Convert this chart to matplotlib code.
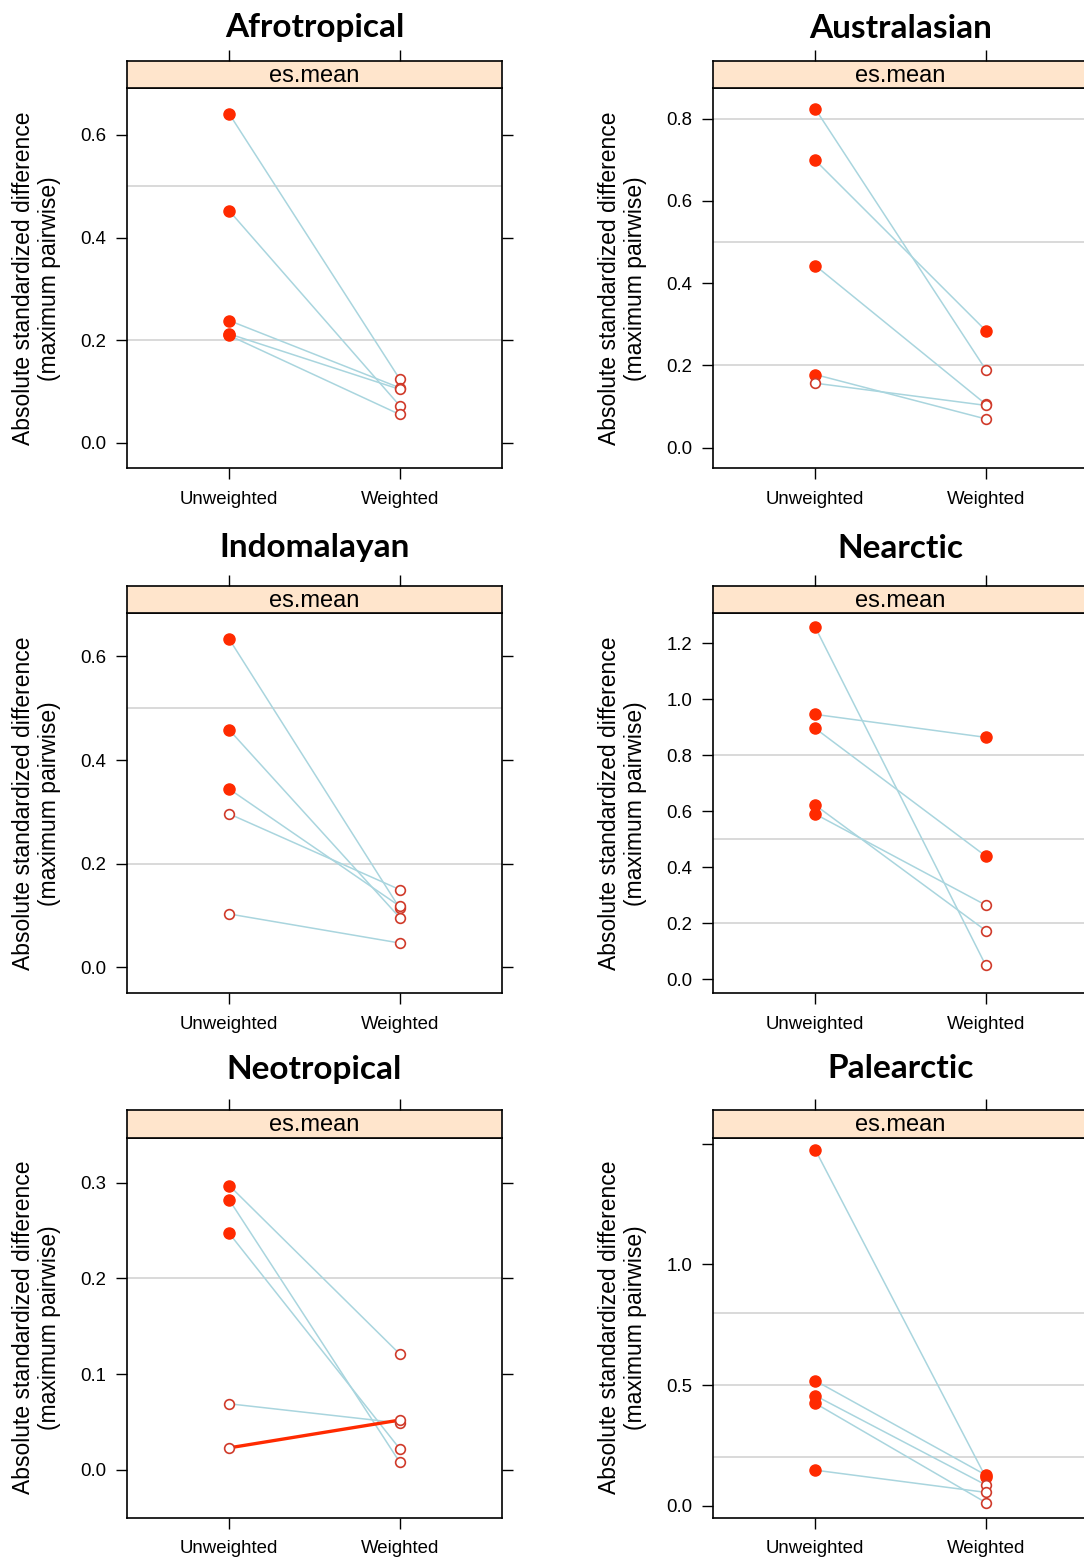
import matplotlib
matplotlib.use("Agg")
import matplotlib.pyplot as plt

plt.rcParams['font.family'] = ['Liberation Sans', 'DejaVu Sans']

regions = ["Afrotropical", "Australasian", "Indomalayan",
           "Nearctic", "Neotropical", "Palearctic"]
groups = ["Unweighted", "Weighted"]

# one list per region: unweighted value, weighted value of each covariate
unweighted = {
    "Afrotropical": [0.641, 0.452, 0.238, 0.212, 0.209],
    "Australasian": [0.824, 0.699, 0.443, 0.178, 0.157],
    "Indomalayan":  [0.633, 0.458, 0.344, 0.296, 0.103],
    "Nearctic":     [1.257, 0.946, 0.896, 0.622, 0.590],
    "Neotropical":  [0.297, 0.282, 0.247, 0.069, 0.023],
    "Palearctic":   [1.475, 0.518, 0.456, 0.424, 0.147],
}
weighted = {
    "Afrotropical": [0.124, 0.072, 0.107, 0.104, 0.055],
    "Australasian": [0.190, 0.285, 0.106, 0.070, 0.103],
    "Indomalayan":  [0.114, 0.096, 0.118, 0.150, 0.047],
    "Nearctic":     [0.050, 0.864, 0.440, 0.174, 0.265],
    "Neotropical":  [0.121, 0.008, 0.022, 0.049, 0.052],
    "Palearctic":   [0.118, 0.127, 0.086, 0.013, 0.055],
}
# filled marker = significant difference
unw_filled = {
    "Afrotropical": [1, 1, 1, 1, 1],
    "Australasian": [1, 1, 1, 1, 0],
    "Indomalayan":  [1, 1, 1, 0, 0],
    "Nearctic":     [1, 1, 1, 1, 1],
    "Neotropical":  [1, 1, 1, 0, 0],
    "Palearctic":   [1, 1, 1, 1, 1],
}
wtd_filled = {
    "Afrotropical": [0, 0, 0, 0, 0],
    "Australasian": [0, 1, 0, 0, 0],
    "Indomalayan":  [0, 0, 0, 0, 0],
    "Nearctic":     [0, 1, 1, 0, 0],
    "Neotropical":  [0, 0, 0, 0, 0],
    "Palearctic":   [1, 1, 0, 0, 0],
}
# lines where balance got worse after weighting
increased = {
    "Neotropical": [0, 0, 0, 0, 1],
}
yticks = {
    "Afrotropical": [0.0, 0.2, 0.4, 0.6],
    "Australasian": [0.0, 0.2, 0.4, 0.6, 0.8],
    "Indomalayan":  [0.0, 0.2, 0.4, 0.6],
    "Nearctic":     [0.0, 0.2, 0.4, 0.6, 0.8, 1.0, 1.2],
    "Neotropical":  [0.0, 0.1, 0.2, 0.3],
    "Palearctic":   [0.0, 0.5, 1.0, 1.5],
}
ytick_labels = {
    "Palearctic": ["0.0", "0.5", "1.0", ""],
}
ref_lines = [0.2, 0.5, 0.8]

W, H = 1084, 1558
fig = plt.figure(figsize=(W / 100, H / 100), dpi=100)

col_x = [127, 713]
panel_w = 375
row_top = [88.3, 613.3, 1137.7]
title_y = [28, 548, 1069]
panel_h = 380
strip_h = 27.6

red = "#FF2A00"
open_red = "#D03A2A"
blue = "#A9D5DE"
grid = "#CFCFCF"

tick_kw = dict(direction="out", length=8, width=1, labelsize=13.4, colors="black")

for i, reg in enumerate(regions):
    r, c = divmod(i, 2)
    x0 = col_x[c]
    top = row_top[r]
    ax = fig.add_axes([x0 / W, 1 - (top + panel_h) / H, panel_w / W, panel_h / H])
    st = fig.add_axes([x0 / W, 1 - top / H, panel_w / W, strip_h / H])

    u = unweighted[reg]
    w = weighted[reg]
    for y in ref_lines:
        ax.axhline(y, color=grid, lw=1.1, zorder=1)
    inc = increased.get(reg, [0] * len(u))
    for k in range(len(u)):
        if inc[k]:
            ax.plot([1, 2], [u[k], w[k]], color=red, lw=2.4, zorder=3)
        else:
            ax.plot([1, 2], [u[k], w[k]], color=blue, lw=1.1, zorder=2)
    for xpos, vals, filled in ((1, u, unw_filled[reg]), (2, w, wtd_filled[reg])):
        for v, f in zip(vals, filled):
            if f:
                ax.plot(xpos, v, "o", ms=8, color=red, mec=red, zorder=4)
            else:
                ax.plot(xpos, v, "o", ms=7, mfc="white", mec=open_red, mew=1.2, zorder=4)

    ax.set_xlim(0.4, 2.6)
    ax.set_ylim(-0.05, max(u + w) + 0.05)
    ax.set_xticks([1, 2])
    ax.set_xticklabels(groups)
    ax.set_yticks(yticks[reg])
    ax.set_yticklabels(ytick_labels.get(reg, ["%.1f" % t for t in yticks[reg]]))
    ax.tick_params(axis="y", left=True, right=True, pad=7, **tick_kw)
    ax.tick_params(axis="x", bottom=True, top=False, pad=8, **tick_kw)
    for s in ax.spines.values():
        s.set_linewidth(1.2)
    ax.text(-90.5 / panel_w, 0.5,
            "Absolute standardized difference\n(maximum pairwise)",
            transform=ax.transAxes, rotation=90, ha="center", va="center",
            multialignment="center", fontsize=16.5, linespacing=1.15)

    st.set_facecolor("#FFE5CC")
    st.set_xlim(0.4, 2.6)
    st.set_ylim(0, 1)
    st.set_yticks([])
    st.set_xticks([1, 2])
    st.tick_params(axis="x", bottom=False, top=True, labelbottom=False,
                   labeltop=False, direction="out", length=8, width=1)
    for s in st.spines.values():
        s.set_linewidth(1.2)
    st.text(0.5, 0.45, "es.mean", transform=st.transAxes, ha="center",
            va="center", fontsize=17)

    fig.text((x0 + panel_w / 2) / W, 1 - title_y[r] / H, reg, ha="center",
             va="center", fontsize=24, fontweight="bold", family="Lato")

fig.savefig("out.png", dpi=100)
